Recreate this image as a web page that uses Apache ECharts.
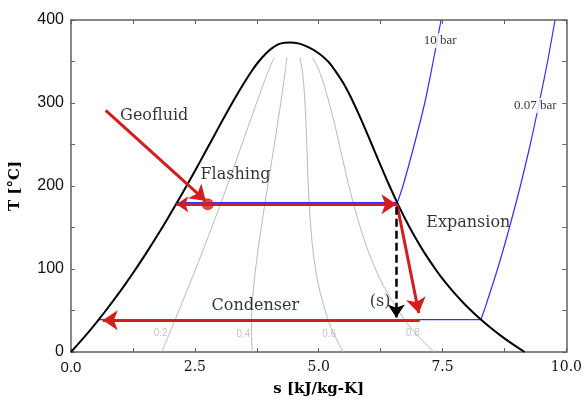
<!DOCTYPE html>
<html>
<head>
  <meta charset="utf-8">
</head>
<body style="margin: 0; background: #fff">
  <div id="container" style="width: 585px; height: 402px"></div>
  <script src="https://cdn.jsdelivr.net/npm/echarts@6/dist/echarts.min.js"></script>
  <script>
// saturation dome (T in C, s in kJ/kg-K), critical point kept separately
const satT  = [0, 10, 20, 30, 40, 50, 60, 70, 80, 90, 100, 120, 140, 160, 180, 200, 220, 240, 260, 280, 300, 320, 340, 350, 360, 367, 371.5];
const satSf = [0, 0.151, 0.297, 0.437, 0.572, 0.704, 0.831, 0.955, 1.075, 1.193, 1.307, 1.528, 1.739, 1.943, 2.140, 2.331, 2.518, 2.702, 2.884, 3.067, 3.253, 3.450, 3.665, 3.79, 3.94, 4.08, 4.22];
const satSg = [9.156, 8.900, 8.666, 8.452, 8.256, 8.075, 7.908, 7.754, 7.611, 7.478, 7.354, 7.129, 6.929, 6.749, 6.584, 6.430, 6.284, 6.142, 6.001, 5.857, 5.704, 5.536, 5.32, 5.19, 5.00, 4.80, 4.61];
const critical = [4.41, 373];

// constant quality lines
const qualT = [0, 20, 40, 80, 120, 160, 200, 240, 280, 320, 340, 355];
const qual02 = [1.831, 1.971, 2.109, 2.382, 2.648, 2.904, 3.151, 3.390, 3.625, 3.866, 3.994, 4.101];
const qual04 = [3.662, 3.644, 3.646, 3.689, 3.768, 3.865, 3.971, 4.078, 4.183, 4.283, 4.329, 4.359];
const qual06 = [5.494, 5.318, 5.182, 4.997, 4.889, 4.827, 4.790, 4.766, 4.741, 4.701, 4.665, 4.617];
const qual08 = [7.325, 6.992, 6.719, 6.304, 6.009, 5.788, 5.610, 5.454, 5.299, 5.118, 5.000, 4.875];
const qualLabels = [['0.2', 1.81, 22], ['0.4', 3.48, 21], ['0.6', 5.21, 21], ['0.8', 6.90, 22]];

// isobars
const bar10SatS = [2.138, 6.586]; const bar10SatT = 179.9;
const bar10T = [179.9, 200, 250, 300, 350, 400];
const bar10S = [6.586, 6.70, 6.93, 7.14, 7.31, 7.47];
const bar007SatS = [0.559, 8.274]; const bar007SatT = 39;
const bar007T = [39, 50, 100, 150, 200, 250, 300, 350, 400];
const bar007S = [8.274, 8.34, 8.61, 8.85, 9.07, 9.27, 9.45, 9.62, 9.77];
const pressLabels = [['10 bar', 7.45, 375], ['0.07 bar', 9.37, 297]];

// process arrows [s0, T0, s1, T1]
const geofluid = [0.70, 291, 2.72, 182];
const flashing = [2.126, 178, 6.57, 178];
const expansion = [6.58, 178, 7.02, 47];
const isentropic = [6.566, 175, 6.566, 41.5];
const condenser = [7.04, 38.2, 0.64, 38.2];
const flashPoint = [2.76, 178];

const notes = [['Geofluid', 1.68, 284], ['Flashing', 3.32, 213], ['Condenser', 3.72, 56], ['Expansion', 8.02, 156], ['(s)', 6.24, 61]];

const RED = '#d21e1e';
const BLUE = '#2f2fff';
const GRAY = '#b9b9b9';
const SERIF = 'DejaVu Serif';

const pts = (xs, ys) => xs.map((x, i) => [x, Array.isArray(ys) ? ys[i] : ys]);
const dome = pts(satSf, satT).concat([critical], pts(satSg, satT).reverse());

function qualSeries(arr) {
  return {
    type: 'line', data: pts(arr, qualT), smooth: 0.3, symbol: 'none', silent: true,
    lineStyle: { color: GRAY, width: 1 }, z: 1
  };
}
function arrow(a, symbols, color, width, type, size) {
  return {
    type: 'lines', coordinateSystem: 'cartesian2d', silent: true, z: 5,
    symbol: symbols, symbolSize: size,
    lineStyle: { color: color, width: width, type: type, opacity: 1 },
    data: [{ coords: [[a[0], a[1]], [a[2], a[3]]] }]
  };
}
function textSeries(list, style) {
  return {
    type: 'scatter', symbolSize: 1, silent: true, z: 6,
    itemStyle: { color: 'rgba(0,0,0,0)' },
    data: list.map(d => ({ name: d[0], value: [d[1], d[2]] })),
    label: Object.assign({ show: true, position: 'inside', formatter: p => p.name }, style)
  };
}

const axisColor = '#606060';
const xTickLabel = {
  margin: 8,
  formatter: v => v === 0 ? '{a|0.0}' : '{b|' + v.toFixed(1) + '}',
  rich: {
    a: { fontFamily: 'Liberation Sans', fontSize: 15, color: '#111' },
    b: { fontFamily: SERIF, fontSize: 14, color: '#111' }
  }
};

const chart = echarts.init(document.getElementById('container'), null, { renderer: 'canvas' });
chart.setOption({
  animation: false,
  grid: { left: 71, right: 14, top: 20, bottom: 50 },
  xAxis: [
    {
      type: 'value', min: 0, max: 10, interval: 2.5,
      name: 's [kJ/kg-K]', nameLocation: 'middle', nameGap: 30,
      nameTextStyle: { fontFamily: SERIF, fontWeight: 'bold', fontSize: 15, color: '#000' },
      axisLine: { onZero: false, lineStyle: { color: axisColor, width: 1.5 } },
      axisTick: { inside: true, length: 4, lineStyle: { color: axisColor } },
      minorTick: { show: true, splitNumber: 2, length: 4, lineStyle: { color: axisColor } },
      splitLine: { show: false },
      axisLabel: xTickLabel
    },
    {
      type: 'value', min: 0, max: 10, interval: 2.5, position: 'top',
      axisLine: { onZero: false, lineStyle: { color: axisColor, width: 1.5 } },
      axisTick: { inside: true, length: 4, lineStyle: { color: axisColor } },
      minorTick: { show: true, splitNumber: 2, length: 4, lineStyle: { color: axisColor } },
      splitLine: { show: false }, axisLabel: { show: false }
    }
  ],
  yAxis: [
    {
      type: 'value', min: 0, max: 400, interval: 100,
      name: 'T [°C]', nameLocation: 'middle', nameGap: 48,
      nameTextStyle: { fontFamily: SERIF, fontWeight: 'bold', fontSize: 15, color: '#000' },
      axisLine: { show: true, onZero: false, lineStyle: { color: axisColor, width: 1.5 } },
      axisTick: { show: true, inside: true, length: 4, lineStyle: { color: axisColor } },
      minorTick: { show: true, splitNumber: 2, length: 4, lineStyle: { color: axisColor } },
      splitLine: { show: false },
      axisLabel: { margin: 7, fontFamily: 'Liberation Sans', fontSize: 16, color: '#111' }
    },
    {
      type: 'value', min: 0, max: 400, interval: 100, position: 'right',
      axisLine: { show: true, onZero: false, lineStyle: { color: axisColor, width: 1.5 } },
      axisTick: { show: true, inside: true, length: 4, lineStyle: { color: axisColor } },
      minorTick: { show: true, splitNumber: 2, length: 4, lineStyle: { color: axisColor } },
      splitLine: { show: false }, axisLabel: { show: false }
    }
  ],
  series: [
    qualSeries(qual02), qualSeries(qual04), qualSeries(qual06), qualSeries(qual08),
    {
      type: 'line', data: dome, smooth: 0.4, symbol: 'none', silent: true,
      lineStyle: { color: '#000', width: 2 }, z: 3
    },
    { type: 'line', data: pts(bar10SatS, bar10SatT), symbol: 'none', silent: true, lineStyle: { color: BLUE, width: 1.2 }, z: 2 },
    { type: 'line', data: pts(bar10S, bar10T), smooth: 0.3, symbol: 'none', silent: true, lineStyle: { color: BLUE, width: 1.2 }, z: 2 },
    { type: 'line', data: pts(bar007SatS, bar007SatT), symbol: 'none', silent: true, lineStyle: { color: BLUE, width: 1.2 }, z: 2 },
    { type: 'line', data: pts(bar007S, bar007T), smooth: 0.3, symbol: 'none', silent: true, lineStyle: { color: BLUE, width: 1.2 }, z: 2 },
    arrow(geofluid, ['none', 'arrow'], RED, 3, 'solid', [12, 15]),
    arrow(flashing, ['arrow', 'arrow'], RED, 3, 'solid', [12, 15]),
    arrow(expansion, ['none', 'arrow'], RED, 3, 'solid', [12, 15]),
    arrow(condenser, ['none', 'arrow'], RED, 3, 'solid', [12, 15]),
    arrow(isentropic, ['none', 'arrow'], '#000', 2.5, [8, 4], [9, 13]),
    {
      type: 'scatter', data: [flashPoint], symbolSize: 12, silent: true, z: 7,
      itemStyle: { color: RED }
    },
    textSeries(notes, { fontFamily: SERIF, fontSize: 16, color: '#000' }),
    textSeries(pressLabels, { fontFamily: 'Liberation Serif', fontSize: 13, color: '#000', backgroundColor: '#fff', padding: [1, 1] }),
    textSeries(qualLabels, { fontFamily: 'Liberation Sans', fontSize: 10, color: '#b4b4b4' })
  ]
});
window.addEventListener('resize', chart.resize);
  </script>
</body>
</html>
